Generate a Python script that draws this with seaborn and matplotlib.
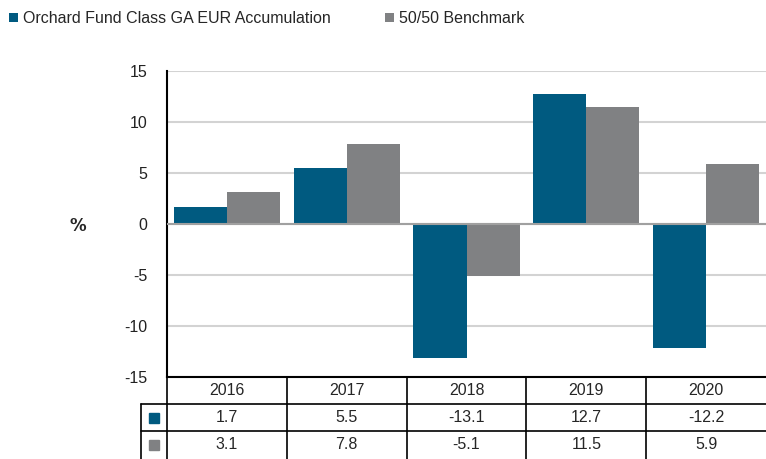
## Annual returns: fund vs benchmark bar chart with a data table underneath
import pandas as pd
import matplotlib.pyplot as plt
import matplotlib.transforms as mtransforms
import seaborn as sns

## Data
years = ["2016", "2017", "2018", "2019", "2020"]
fund_name = "Orchard Fund Class GA EUR Accumulation"
bench_name = "50/50 Benchmark"
fund_vals = [1.7, 5.5, -13.1, 12.7, -12.2]
bench_vals = [3.1, 7.8, -5.1, 11.5, 5.9]
y_ticks = [-15, -10, -5, 0, 5, 10, 15]

blue, grey = "#005A80", "#808183"

df = pd.DataFrame({
    "year": years * 2,
    "value": fund_vals + bench_vals,
    "series": [fund_name] * len(years) + [bench_name] * len(years),
})

sns.set_style("white")
plt.rcParams["font.family"] = ["Liberation Sans", "DejaVu Sans"]

W, H = 766, 459
fig = plt.figure(figsize=(W / 100, H / 100), dpi=100)
ax = fig.add_axes([167 / W, 82 / H, 599 / W, 306 / H])

sns.barplot(data=df, x="year", y="value", hue="series", palette=[blue, grey],
            width=0.885, saturation=1, linewidth=0, ax=ax)
handles, labels = ax.get_legend_handles_labels()
ax.get_legend().remove()

ax.set_ylim(-15, 15)
ax.set_xlim(-0.5, len(years) - 0.5)
ax.set_yticks(y_ticks)
ax.set_yticklabels([str(t) for t in y_ticks])
ax.tick_params(axis="y", length=0, pad=14, labelsize=11.5, labelcolor="#222222")
ax.set_xticks([])
ax.set_xlabel("")
ax.set_ylabel("")
ax.yaxis.grid(True, color="#D3D3D3", lw=1.5)
ax.set_axisbelow(True)
ax.axhline(0, color="#A0A0A0", lw=1.5, zorder=3)
for s in ["top", "right"]:
    ax.spines[s].set_visible(False)
ax.spines["left"].set_color("black")
ax.spines["left"].set_linewidth(1.5)
ax.spines["bottom"].set_color("black")
ax.spines["bottom"].set_linewidth(1.5)

fig.text(78 / W, 1 - 226 / H, "%", fontsize=12, weight="bold", ha="center", va="center",
         family="DejaVu Sans")

## Table under the plot (x in data units, y in axes fraction)
tr = mtransforms.blended_transform_factory(ax.transData, ax.transAxes)
rh = 27 / 306
x_key = -0.5 - 26 / 120
x_right = len(years) - 0.5
line_kw = dict(color="black", lw=1.2, transform=tr, clip_on=False)
for k in [1, 2]:
    ax.plot([x_key, x_right], [-k * rh, -k * rh], **line_kw)
for xv in [i - 0.5 for i in range(len(years))]:
    ax.plot([xv, xv], [0, -3.2 * rh], **line_kw)
ax.plot([x_key, x_key], [-rh, -3.2 * rh], **line_kw)

for i, yr in enumerate(years):
    ax.text(i, -0.5 * rh, yr, transform=tr, ha="center", va="center", fontsize=11.5)
    ax.text(i, -1.5 * rh, f"{fund_vals[i]:.1f}", transform=tr, ha="center", va="center", fontsize=11.5)
    ax.text(i, -2.5 * rh, f"{bench_vals[i]:.1f}", transform=tr, ha="center", va="center", fontsize=11.5)
xm = (x_key - 0.5) / 2
ax.plot([xm], [-1.5 * rh], marker="s", ms=7, color=blue, transform=tr, clip_on=False, ls="none")
ax.plot([xm], [-2.5 * rh], marker="s", ms=7, color=grey, transform=tr, clip_on=False, ls="none")

## Legend on top
fig.legend(handles, labels, loc="upper left", bbox_to_anchor=(9 / W, 1 - 11 / H), ncol=2,
           frameon=False, fontsize=11.5, handlelength=0.55, handleheight=0.55,
           handletextpad=0.3, columnspacing=3.45, borderaxespad=0, borderpad=0)

fig.savefig("out.png", dpi=100)
